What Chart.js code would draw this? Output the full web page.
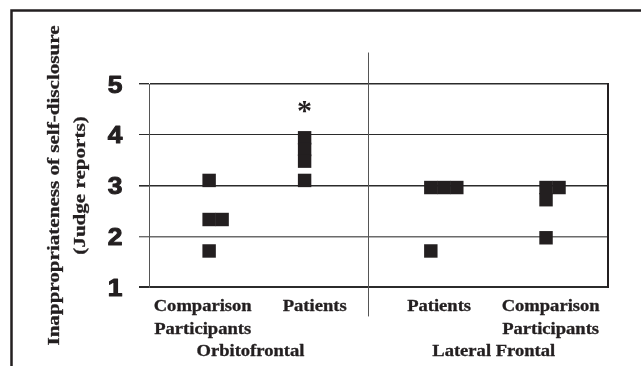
<!DOCTYPE html>
<html lang="en">
  <head>
    <meta charset="UTF-8" />
    <title>Inappropriateness of self-disclosure</title>
    <script src="https://cdn.jsdelivr.net/npm/chart.js"></script>
    <style>
      html, body { margin: 0; padding: 0; background: #fff; }
      #wrap { width: 641px; height: 366px; position: relative; }
    </style>
  </head>
  <body>
    <div id="wrap"><canvas id="chart"></canvas></div>
    <script>
      // group centres on the x scale (0..10) and the judge ratings
      const groupCenters = [1.31, 3.39, 6.14, 8.65];
      const slotWidth = 0.283; // tied ratings sit side by side

      const ofComparisonValues = [3.1, 2.33, 2.33, 1.71];
      const ofComparisonSlots = [0, 0, 1, 0];
      const ofPatientsValues = [3.94, 3.71, 3.48, 3.1];
      const ofPatientsSlots = [0, 0, 0, 0];
      const lfPatientsValues = [2.96, 2.96, 2.96, 1.71];
      const lfPatientsSlots = [0, 1, 2, 0];
      const lfComparisonValues = [2.96, 2.96, 2.72, 1.97];
      const lfComparisonSlots = [0, 1, 0, 0];

      const yTickValues = [1, 2, 3, 4, 5];
      const yTickLabels = ["1", "2", "3", "4", "5"];

      // category labels: [text lines, x position]
      const groupLabels = [
        { lines: ["Comparison", "Participants"], x: 1.17 },
        { lines: ["Patients"], x: 3.61 },
        { lines: ["Patients"], x: 6.32 },
        { lines: ["Comparison", "Participants"], x: 8.75 },
      ];
      const regionLabels = [
        { text: "Orbitofrontal", x: 2.21 },
        { text: "Lateral Frontal", x: 7.51 },
      ];
      const separator = { x: 4.77, from: 0.42, to: 5.62 };
      const significance = { text: "*", x: 3.39, y: 4.57 };
      const yTitle = ["Inappropriateness of self-disclosure", "(Judge reports)"];

      function toPoints(values, slots, center) {
        return values.map((v, i) => ({ x: center + slots[i] * slotWidth, y: v }));
      }

      const INK = "#231f20";

      // draw text stretched horizontally, slightly emboldened
      function wideText(ctx, text, px, py, sx, stroke) {
        ctx.save();
        ctx.translate(px, py);
        ctx.scale(sx, 1);
        if (stroke) {
          ctx.lineWidth = stroke;
          ctx.lineJoin = "round";
          ctx.strokeText(text, 0, 0);
        }
        ctx.fillText(text, 0, 0);
        ctx.restore();
      }

      const decor = {
        id: "decor",
        afterDraw(chart) {
          const { ctx, chartArea } = chart;
          const x = chart.scales.x;
          const y = chart.scales.y;
          ctx.save();

          // outer frame (top and left)
          ctx.strokeStyle = INK;
          ctx.lineWidth = 2.5;
          ctx.beginPath();
          ctx.moveTo(11.5, 366);
          ctx.lineTo(11.5, 10.5);
          ctx.lineTo(641, 10.5);
          ctx.stroke();

          // right border of plot
          ctx.lineWidth = 2;
          ctx.beginPath();
          ctx.moveTo(chartArea.right, chartArea.top - 1);
          ctx.lineTo(chartArea.right, chartArea.bottom + 1);
          ctx.stroke();

          // divider between regions
          ctx.strokeStyle = "#555";
          ctx.lineWidth = 1;
          const sx = Math.round(x.getPixelForValue(separator.x)) + 0.5;
          ctx.beginPath();
          ctx.moveTo(sx, y.getPixelForValue(separator.to));
          ctx.lineTo(sx, y.getPixelForValue(separator.from));
          ctx.stroke();

          ctx.fillStyle = INK;
          ctx.strokeStyle = INK;
          ctx.textAlign = "center";
          ctx.textBaseline = "alphabetic";

          // y tick labels, heavy sans
          ctx.font = 'bold 24px Arial, "Liberation Sans", sans-serif';
          yTickValues.forEach((v, i) => {
            const py = y.getPixelForValue(v);
            wideText(ctx, yTickLabels[i], 115, py + 0.36 * 24, 1.1, 1.0);
          });

          // significance star
          ctx.font = 'bold 30px "Liberation Serif", "Times New Roman", serif';
          ctx.fillText(
            significance.text,
            x.getPixelForValue(significance.x),
            y.getPixelForValue(significance.y) + 0.48 * 30
          );

          // category labels
          ctx.font = 'bold 16px "Liberation Serif", "Times New Roman", serif';
          const rows = [chartArea.bottom + 23.5, chartArea.bottom + 46.5];
          groupLabels.forEach((g) => {
            g.lines.forEach((t, i) => {
              wideText(ctx, t, x.getPixelForValue(g.x), rows[i], 1.16, 0.3);
            });
          });
          regionLabels.forEach((r) => {
            wideText(ctx, r.text, x.getPixelForValue(r.x), chartArea.bottom + 69, 1.16, 0.3);
          });

          // y title, rotated
          ctx.font = 'bold 17px "Liberation Serif", "Times New Roman", serif';
          ctx.textBaseline = "middle";
          const midY = (chartArea.top + chartArea.bottom) / 2;
          [54.5, 80.5].forEach((tx, i) => {
            ctx.save();
            ctx.translate(tx, midY);
            ctx.rotate(-Math.PI / 2);
            wideText(ctx, yTitle[i], 0, 0, 1.24, 0.3);
            ctx.restore();
          });

          ctx.restore();
        },
      };

      function gridColor(c) {
        const v = c.tick && c.tick.value;
        if (v === 2) return "#6b6b6b";
        return "#2b2b2b";
      }
      function gridWidth(c) {
        const v = c.tick && c.tick.value;
        if (v === 1) return 2;
        if (v === 3) return 1.6;
        if (v === 2) return 1.4;
        if (v === 5) return 1.4;
        return 1;
      }

      const pointStyle = {
        pointStyle: "rect",
        pointRadius: 9.5,
        pointHoverRadius: 9.5,
        pointBorderWidth: 0,
        backgroundColor: INK,
        borderColor: INK,
      };

      new Chart(document.getElementById("chart"), {
        type: "scatter",
        data: {
          datasets: [
            { label: "Orbitofrontal comparison", data: toPoints(ofComparisonValues, ofComparisonSlots, groupCenters[0]), ...pointStyle },
            { label: "Orbitofrontal patients", data: toPoints(ofPatientsValues, ofPatientsSlots, groupCenters[1]), ...pointStyle },
            { label: "Lateral frontal patients", data: toPoints(lfPatientsValues, lfPatientsSlots, groupCenters[2]), ...pointStyle },
            { label: "Lateral frontal comparison", data: toPoints(lfComparisonValues, lfComparisonSlots, groupCenters[3]), ...pointStyle },
          ],
        },
        options: {
          responsive: true,
          maintainAspectRatio: false,
          animation: false,
          layout: { padding: { left: 0, top: 84, right: 33, bottom: 79 } },
          plugins: { legend: { display: false }, tooltip: { enabled: false } },
          scales: {
            x: { type: "linear", min: 0, max: 10, display: false },
            y: {
              type: "linear",
              min: 1,
              max: 5,
              ticks: { stepSize: 1, display: false },
              grid: { color: gridColor, lineWidth: gridWidth, tickLength: 10 },
              border: { color: "#555", width: 1 },
              afterFit(scale) {
                scale.width = 149;
              },
            },
          },
        },
        plugins: [decor],
      });
    </script>
  </body>
</html>
